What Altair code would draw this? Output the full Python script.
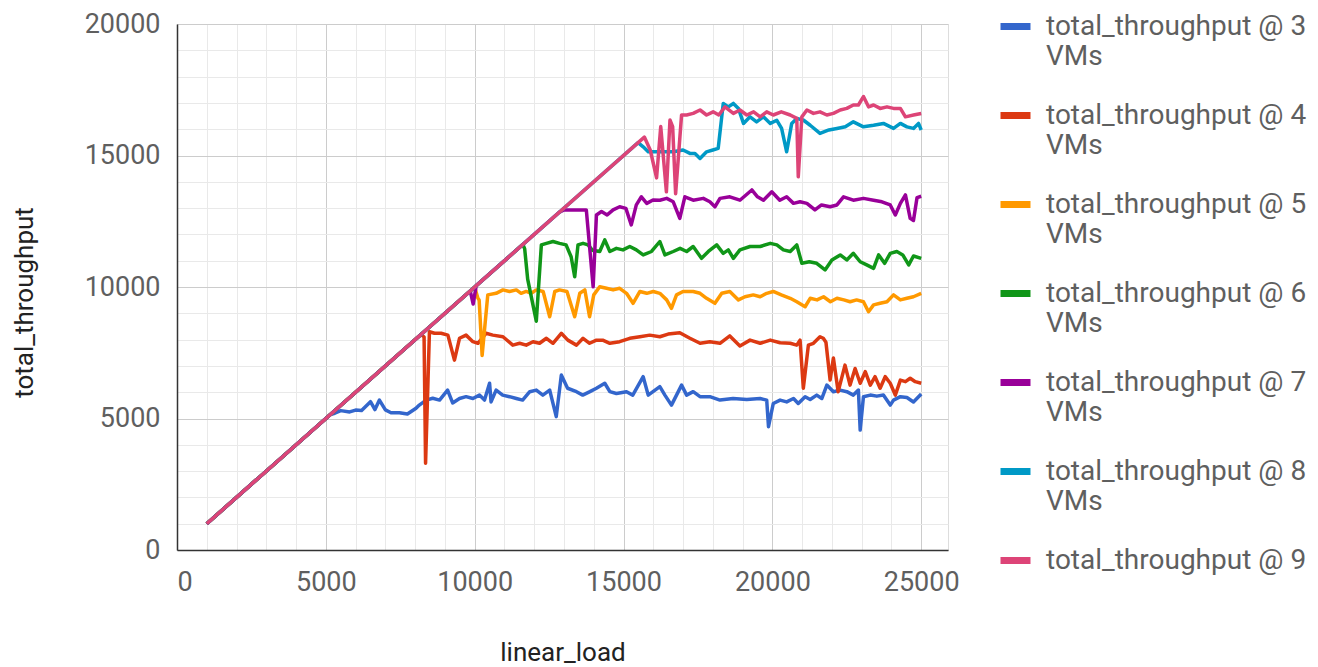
import altair as alt
import pandas as pd

series_names = [
    "total_throughput @ 3 VMs",
    "total_throughput @ 4 VMs",
    "total_throughput @ 5 VMs",
    "total_throughput @ 6 VMs",
    "total_throughput @ 7 VMs",
    "total_throughput @ 8 VMs",
    "total_throughput @ 9 VMs",
]
series_colors = ["#3366cc", "#dc3912", "#ff9900", "#109618", "#990099", "#0099c6", "#dd4477"]

vm3 = [(1000,1000),(5150,5150),(5300,5200),(5500,5300),(5800,5250),(6000,5320),(6200,5300),(6500,5640),(6650,5340),
       (6800,5700),(7000,5330),(7190,5220),(7470,5220),(7740,5170),(8030,5390),(8140,5510),(8370,5700),(8590,5770),
       (8820,5700),(9090,6080),(9260,5590),(9490,5760),(9710,5830),(9940,5760),(10160,5890),(10330,5700),(10500,6340),
       (10550,5630),(10720,6080),(10940,5890),(11170,5830),(11400,5760),(11610,5700),(11850,6020),(12070,6080),
       (12290,5890),(12520,6080),(12740,5070),(12910,6650),(13120,6150),(13420,6020),(13630,5890),(13870,6020),
       (14090,6150),(14370,6340),(14540,6020),(14760,5950),(15100,6020),(15310,5890),(15660,6590),(15830,5890),
       (15990,6020),(16220,6210),(16390,5890),(16610,5510),(16780,5890),(16950,6270),(17120,5890),(17340,6020),
       (17570,5830),(17900,5830),(18240,5700),(18680,5760),(19140,5720),(19590,5760),(19810,5700),(19870,4690),
       (20030,5570),(20260,5700),(20480,5630),(20710,5760),(20870,5570),(21100,5830),(21270,5720),(21490,5890),
       (21660,5760),(21830,6270),(22050,6020),(22280,6080),(22500,6020),(22720,5890),(22890,6080),(22950,4560),
       (23060,5830),(23290,5890),(23510,5850),(23730,5890),(23960,5510),(24070,5700),(24300,5830),(24520,5800),
       (24740,5630),(25000,5930)]

vm4 = [(1000,1000),(8200,8200),(8300,8100),(8350,3300),(8480,8300),(8650,8240),(8870,8240),(9100,8170),(9320,7220),
       (9490,8050),(9710,8170),(9940,7920),(10110,7860),(10380,8240),(10610,8170),(10950,8110),(11280,7790),
       (11510,7860),(11730,7790),(11960,7920),(12180,7860),(12410,8050),(12630,7860),(12910,8240),(13130,7980),
       (13420,7790),(13640,8050),(13860,7860),(14090,7980),(14300,7980),(14540,7860),(14870,7920),(15210,8050),
       (15550,8110),(15880,8170),(16220,8110),(16500,8210),(16890,8260),(17230,8050),(17570,7860),(17900,7920),
       (18240,7860),(18570,8140),(18910,7760),(19250,7980),(19590,7860),(19930,7980),(20260,7880),(20600,7860),
       (20820,7790),(20930,7980),(21040,6150),(21210,7790),(21380,7860),(21600,8110),(21710,8050),(21800,7900),
       (21940,6460),(22050,7300),(22210,6020),(22440,7030),(22610,6270),(22780,6900),(22950,6340),(23120,6780),
       (23290,6270),(23450,6590),(23620,6150),(23790,6590),(23960,6340),(24130,5890),(24300,6460),(24470,6400),
       (24630,6530),(24800,6400),(25000,6340)]

vm5 = [(1000,1000),(10000,10000),(10100,9600),(10150,9500),(10250,7400),(10440,9700),(10720,9760),(10950,9890),
       (11170,9830),(11400,9890),(11560,9760),(11730,9830),(11900,9760),(12070,9890),(12300,9830),(12520,8870),
       (12690,9830),(12850,9890),(13100,9830),(13360,8870),(13530,9760),(13700,9890),(13860,8870),(14000,9700),
       (14200,10010),(14430,9950),(14650,9890),(14870,9950),(15100,9760),(15320,9380),(15550,9830),(15780,9760),
       (16000,9830),(16220,9760),(16450,9510),(16610,9190),(16780,9700),(17000,9830),(17340,9830),(17570,9760),
       (17790,9570),(18070,9380),(18300,9760),(18570,9830),(18860,9510),(19080,9630),(19360,9700),(19590,9630),
       (19810,9760),(20030,9830),(20300,9700),(20600,9570),(20820,9440),(21100,9250),(21270,9570),(21500,9510),
       (21720,9630),(21950,9440),(22170,9570),(22400,9510),(22610,9440),(22830,9510),(23060,9440),(23230,9060),
       (23400,9320),(23620,9380),(23850,9440),(24070,9700),(24300,9510),(24520,9570),(24740,9630),(25000,9760)]

vm6 = [(1000,1000),(11620,11620),(11680,11450),(11780,10300),(12070,8700),(12240,11600),(12410,11660),(12630,11730),
       (12850,11660),(13070,11600),(13240,11150),(13360,10390),(13470,11600),(13640,11660),(13810,11600),(13950,11400),
       (14200,11350),(14370,11790),(14540,11350),(14760,11470),(14980,11410),(15210,11540),(15430,11410),(15660,11220),
       (15940,11350),(16220,11730),(16390,11220),(16670,11350),(16900,11470),(17120,11350),(17340,11540),(17620,11090),
       (17850,11350),(18130,11600),(18350,11280),(18520,11410),(18690,11090),(18910,11410),(19250,11540),(19590,11540),
       (19930,11660),(20150,11600),(20370,11410),(20600,11350),(20820,11600),(20990,10900),(21240,10960),(21490,10900),
       (21770,10650),(22000,11030),(22280,11220),(22500,11030),(22720,11280),(22950,10960),(23170,10840),(23400,10710),
       (23570,11220),(23770,10900),(23960,11280),(24180,11350),(24380,11220),(24580,10840),(24740,11180),(25000,11090)]

vm7 = [(1000,1000),(9850,9850),(9950,9350),(10050,10050),(12850,12850),(13000,12930),(13400,12930),(13750,12930),
       (13980,10010),(14090,12740),(14260,12870),(14450,12740),(14650,12930),(14870,13050),(15080,12990),(15260,12360),
       (15430,13120),(15600,13430),(15780,13180),(15990,13310),(16220,13300),(16450,13370),(16670,13240),(16890,12610),
       (17060,13430),(17340,13300),(17680,13370),(17900,13240),(18070,13050),(18240,13370),(18570,13430),(18910,13300),
       (19310,13690),(19500,13430),(19700,13300),(19980,13620),(20250,13300),(20480,13430),(20710,13180),(20930,13240),
       (21160,13180),(21430,12930),(21650,13120),(21940,13050),(22170,13120),(22390,13430),(22720,13300),(23060,13370),
       (23400,13300),(23680,13240),(23960,13120),(24130,12740),(24300,13180),(24470,13500),(24630,12610),(24740,12530),
       (24860,13400),(25000,13450)]

vm8 = [(1000,1000),(15490,15490),(15660,15330),(15830,15140),(16220,15140),(16670,15140),(17000,15210),(17230,15080),
       (17400,15080),(17570,14890),(17790,15140),(18000,15210),(18180,15270),(18350,16980),(18520,16850),(18690,16980),
       (18860,16790),(19030,16220),(19250,16470),(19470,16280),(19700,16470),(19930,16220),(20150,16340),(20310,16030),
       (20480,15140),(20650,16220),(20820,16410),(21050,16340),(21270,16150),(21600,15840),(21900,15970),(22170,16030),
       (22450,16090),(22720,16280),(23060,16090),(23400,16150),(23730,16220),(24070,16030),(24300,16220),(24520,16090),
       (24740,16030),(24910,16220),(25000,15970)]

vm9 = [(1000,1000),(15700,15700),(15900,15200),(16110,14150),(16250,16100),(16440,13620),(16560,16350),(16650,16100),
       (16750,13550),(16950,16540),(17120,16540),(17340,16600),(17570,16730),(17790,16540),(18010,16660),(18200,16540),
       (18410,16850),(18690,16600),(18910,16730),(19140,16540),(19370,16660),(19590,16470),(19810,16660),(20030,16540),
       (20300,16660),(20600,16540),(20820,16410),(20870,14190),(20990,16470),(21160,16730),(21380,16600),(21600,16660),
       (21830,16540),(22050,16600),(22280,16730),(22500,16790),(22720,16920),(22890,16920),(23060,17240),(23230,16850),
       (23400,16920),(23620,16790),(23850,16850),(24070,16790),(24300,16790),(24470,16470),(24740,16540),(25000,16600)]

x_major = [0, 5000, 10000, 15000, 20000, 25000]
y_major = [0, 5000, 10000, 15000, 20000]
x_minor = [v for v in range(1000, 25000, 1000) if v % 5000 != 0]
y_minor = [v for v in range(1000, 20000, 1000) if v % 5000 != 0]

rows = []
for name, pts in zip(series_names, [vm3, vm4, vm5, vm6, vm7, vm8, vm9]):
    for i, (lx, ty) in enumerate(pts):
        rows.append({"series": name, "linear_load": lx, "total_throughput": ty, "idx": i})
df = pd.DataFrame(rows)

FONT = "Roboto"
xscale = alt.Scale(domain=[0, 25900], nice=False, zero=False)
yscale = alt.Scale(domain=[0, 20000], nice=False)

minor = alt.Chart(df).mark_point(opacity=0).encode(
    x=alt.X("linear_load:Q", scale=xscale,
            axis=alt.Axis(orient="top", values=x_minor, grid=True, gridColor="#e9e9e9", gridWidth=1,
                          labels=False, ticks=False, domain=False, title=None)),
    y=alt.Y("total_throughput:Q", scale=yscale,
            axis=alt.Axis(orient="right", values=y_minor, grid=True, gridColor="#e9e9e9", gridWidth=1,
                          labels=False, ticks=False, domain=False, title=None)),
)

lines = alt.Chart(df).mark_line(strokeWidth=3.5, strokeJoin="round").encode(
    x=alt.X("linear_load:Q", scale=xscale,
            axis=alt.Axis(orient="bottom", values=x_major, grid=True, gridColor="#cccccc", gridWidth=1,
                          ticks=False, tickSize=0, domain=True, domainColor="#333333", domainWidth=1.5,
                          labelFont=FONT, labelFontSize=27, labelColor="#5f5f5f", labelPadding=19,
                          labelBaseline="top", format="d",
                          title="linear_load", titleFont=FONT, titleFontSize=26, titleFontWeight="normal",
                          titleColor="#222222", titleY=102, titleBaseline="middle")),
    y=alt.Y("total_throughput:Q", scale=yscale,
            axis=alt.Axis(orient="left", values=y_major, grid=True, gridColor="#cccccc", gridWidth=1,
                          ticks=False, tickSize=0, domain=True, domainColor="#333333", domainWidth=1.5,
                          labelFont=FONT, labelFontSize=27, labelColor="#5f5f5f", labelPadding=17,
                          labelBaseline="middle", format="d",
                          title="total_throughput", titleFont=FONT, titleFontSize=26, titleFontWeight="normal",
                          titleColor="#222222", titleX=-153, titleY=278, titleAngle=270,
                          titleAlign="center", titleBaseline="middle")),
    color=alt.Color("series:N", scale=alt.Scale(domain=series_names, range=series_colors),
                    legend=alt.Legend(
                        title=None, orient="none", legendX=820, legendY=-16, padding=0,
                        symbolType="stroke", symbolStrokeWidth=7, symbolSize=900,
                        labelFont=FONT, labelFontSize=28, labelColor="#5f5f5f", labelLimit=0,
                        labelOffset=12, rowPadding=26, labelBaseline="middle",
                        labelExpr="indexof(datum.label, '9 VMs') >= 0 ? [slice(datum.label, 0, 20), ''] : [slice(datum.label, 0, 20), 'VMs']",
                    )),
    order="idx:Q",
)

chart = alt.layer(minor, lines).resolve_axis(x="independent", y="independent").properties(
    width=771, height=526,
    padding={"left": 169, "top": 16, "right": 362, "bottom": 117},
    autosize=alt.AutoSizeParams(type="none"),
).configure_view(stroke=None).configure(background="white")

chart.save("out.html", embed_options={"renderer": "svg", "actions": False})
